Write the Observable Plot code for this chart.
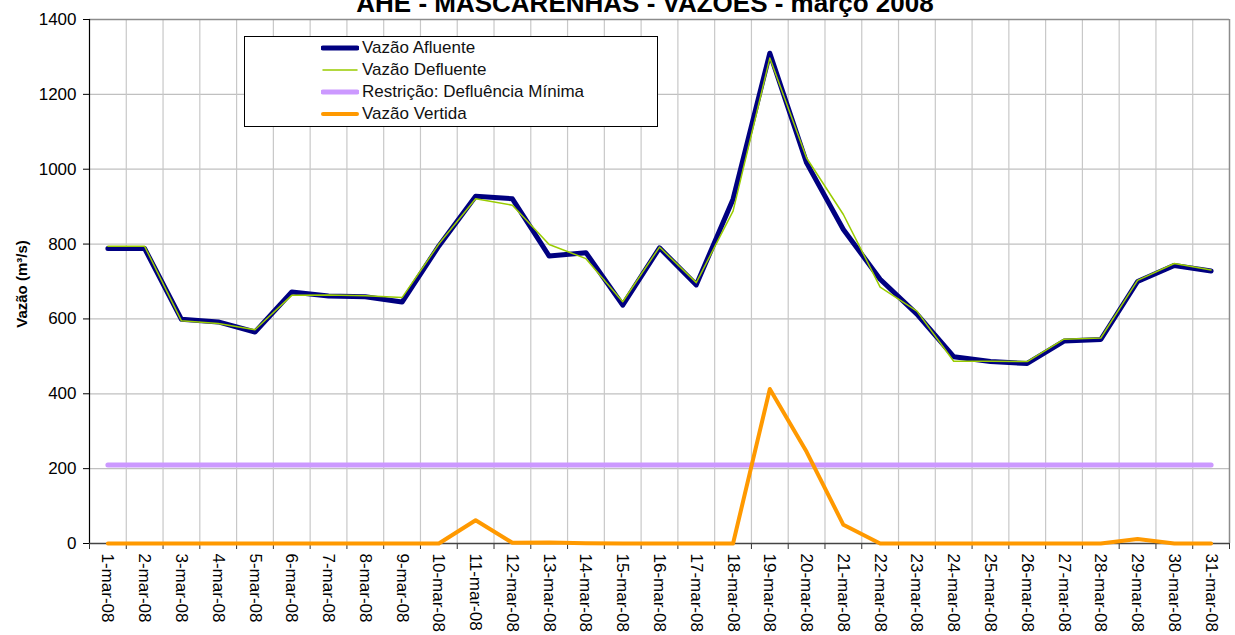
<!DOCTYPE html>
<html>
<head>
<meta charset="utf-8">
<script src="https://cdn.jsdelivr.net/npm/d3@7"></script>
<script src="https://cdn.jsdelivr.net/npm/@observablehq/plot@0.6"></script>
<style>
  html, body { margin: 0; padding: 0; background: #fff; }
  body { position: relative; width: 1235px; height: 635px; overflow: hidden; font-family: "Liberation Sans", Arial, sans-serif; }
  #title { position: absolute; top: -10px; left: 645px; transform: translateX(-50%); white-space: nowrap;
           font-weight: bold; font-size: 26px; line-height: 26px; color: #000; z-index: 2; }
  #ylabel { position: absolute; left: 21px; top: 284px; transform: translate(-50%, -50%) rotate(-90deg); white-space: nowrap;
            font-weight: bold; font-size: 15px; line-height: 15px; color: #000; z-index: 2; }
  #legend { position: absolute; left: 244px; top: 36px; width: 412px; height: 89px; border: 1px solid #000;
            background: #fff; z-index: 2; box-sizing: content-box; }
  .row { position: absolute; left: 0; height: 22px; display: flex; align-items: center; font-size: 17px; color: #111; }
  .row svg { margin-left: 76px; margin-right: 3px; }
</style>
</head>
<body>
<div id="title"></div>
<div id="ylabel"></div>
<div id="chart"></div>
<div id="legend"></div>
<script>
const titleText = "AHE - MASCARENHAS - VAZÕES - março 2008";
const yLabel = "Vazão (m³/s)";
const categories = ["1-mar-08","2-mar-08","3-mar-08","4-mar-08","5-mar-08","6-mar-08","7-mar-08","8-mar-08","9-mar-08","10-mar-08",
  "11-mar-08","12-mar-08","13-mar-08","14-mar-08","15-mar-08","16-mar-08","17-mar-08","18-mar-08","19-mar-08","20-mar-08",
  "21-mar-08","22-mar-08","23-mar-08","24-mar-08","25-mar-08","26-mar-08","27-mar-08","28-mar-08","29-mar-08","30-mar-08","31-mar-08"];
const afluente = [788, 788, 599, 592, 565, 672, 661, 659, 645, 795,
  928, 921, 768, 777, 637, 790, 691, 920, 1310, 1017,
  839, 706, 613, 499, 486, 481, 541, 545, 700, 743, 728];
const defluente = [794, 794, 595, 588, 571, 663, 664, 662, 657, 800,
  921, 904, 799, 761, 646, 792, 697, 888, 1297, 1030,
  879, 685, 621, 487, 487, 486, 546, 549, 703, 748, 731];
const restricao = [210, 210, 210, 210, 210, 210, 210, 210, 210, 210,
  210, 210, 210, 210, 210, 210, 210, 210, 210, 210,
  210, 210, 210, 210, 210, 210, 210, 210, 210, 210, 210];
const vertida = [0, 0, 0, 0, 0, 0, 0, 0, 0, 0,
  62, 2, 3, 1, 0, 0, 0, 0, 413, 245,
  50, 0, 0, 0, 0, 0, 0, 0, 12, 0, 0];
const yTicks = [0, 200, 400, 600, 800, 1000, 1200, 1400];
const seriesNames = ["Vazão Afluente", "Vazão Defluente", "Restrição: Defluência Mínima", "Vazão Vertida"];
const seriesColors = ["#000080", "#99cc00", "#cc99ff", "#ff9900"];
const seriesWidths = [5, 1.5, 5, 4];

document.getElementById("title").textContent = titleText;
document.getElementById("ylabel").textContent = yLabel;

const idx = d3.range(categories.length);
const rows = vals => idx.map(i => ({i: i + 0.5, v: vals[i]}));
const seriesData = [afluente, defluente, restricao, vertida];
const drawOrder = [2, 0, 1, 3];

const chart = Plot.plot({
  width: 1235,
  height: 635,
  marginTop: 19,
  marginRight: 6,
  marginBottom: 92,
  marginLeft: 89,
  style: {fontFamily: "'Liberation Sans', Arial, sans-serif", fontSize: "17px", color: "#000", background: "#fff"},
  x: {type: "linear", domain: [0, categories.length], axis: null},
  y: {domain: [yTicks[0], yTicks[yTicks.length - 1]], axis: null},
  marks: [
    Plot.ruleY(yTicks.slice(1, -1), {stroke: "#c0c0c0", strokeWidth: 1.2}),
    Plot.ruleX(d3.range(1, categories.length), {stroke: "#c8c8c8", strokeWidth: 1.2}),
    Plot.ruleY([yTicks[yTicks.length - 1]], {stroke: "#8c8c8c", strokeWidth: 1.5}),
    Plot.ruleX([categories.length], {stroke: "#8c8c8c", strokeWidth: 1.5}),
    Plot.axisY({ticks: yTicks, tickSize: 6, tickPadding: 7, label: null, fontSize: 17, stroke: "#000",
                tickFormat: d => String(d)}),
    Plot.axisX({ticks: d3.range(0, categories.length + 1), tickSize: 6, tickFormat: () => "", label: null, stroke: "#333"}),
    Plot.axisX({ticks: idx.map(i => i + 0.5), tickSize: 0, tickPadding: 10, tickRotate: 90,
                tickFormat: t => categories[Math.floor(t)], label: null, fontSize: 17}),
    Plot.ruleX([0], {stroke: "#000", strokeWidth: 1.2}),
    Plot.ruleY([0], {stroke: "#444", strokeWidth: 1.5}),
    ...drawOrder.map(k => Plot.line(rows(seriesData[k]), {
      x: "i", y: "v", stroke: seriesColors[k], strokeWidth: seriesWidths[k],
      strokeLinejoin: "round", strokeLinecap: "round"
    }))
  ]
});
document.getElementById("chart").append(chart);

const legend = document.getElementById("legend");
seriesNames.forEach((name, k) => {
  const row = document.createElement("div");
  row.className = "row";
  row.style.top = (0 + k * 22) + "px";
  row.innerHTML = `<svg width="38" height="10"><line x1="2" x2="36" y1="5" y2="5" stroke="${seriesColors[k]}"
     stroke-width="${seriesWidths[k]}" stroke-linecap="round"/></svg><span>${name}</span>`;
  legend.append(row);
});
</script>
</body>
</html>
